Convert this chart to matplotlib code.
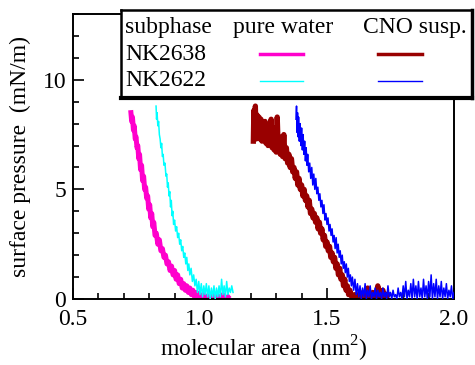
import matplotlib
matplotlib.use("Agg")
import matplotlib.pyplot as plt
from matplotlib.ticker import MultipleLocator

plt.rcParams['font.family'] = ['Liberation Serif', 'DejaVu Serif']
plt.rcParams['mathtext.fontset'] = 'custom'
plt.rcParams['mathtext.rm'] = 'Liberation Serif'

# NK2638 on pure water (magenta)
area_2638_water = [0.728, 0.731, 0.734, 0.738, 0.741, 0.745, 0.748, 0.752, 0.755, 0.759,
                   0.762, 0.766, 0.770, 0.774, 0.778, 0.782, 0.786, 0.790, 0.794, 0.798,
                   0.802, 0.806, 0.810, 0.814, 0.818, 0.823, 0.828, 0.834, 0.840, 0.846,
                   0.852, 0.858, 0.864, 0.870, 0.876, 0.882, 0.888, 0.894, 0.900, 0.906,
                   0.912, 0.918, 0.924, 0.930, 0.936, 0.942, 0.948, 0.954, 0.960, 0.966,
                   0.972, 0.978, 0.984, 0.990, 0.996, 1.004, 1.012, 1.020, 1.030, 1.040,
                   1.050, 1.060, 1.070, 1.080, 1.090, 1.100, 1.110]
pres_2638_water = [8.5, 8.1, 8.3, 7.7, 7.9, 7.3, 7.4, 6.9, 7.0, 6.4,
                   6.6, 5.9, 6.1, 5.4, 5.6, 5.0, 5.1, 4.6, 4.7, 4.1,
                   4.3, 3.7, 3.9, 3.3, 3.5, 2.9, 3.0, 2.5, 2.7, 2.2,
                   2.3, 1.9, 2.0, 1.6, 1.7, 1.3, 1.5, 1.1, 1.3, 0.9,
                   1.1, 0.7, 0.9, 0.5, 0.7, 0.4, 0.6, 0.3, 0.5, 0.2,
                   0.4, 0.1, 0.3, 0.05, 0.25, 0.0, 0.2, 0.0, 0.15, 0.0,
                   0.2, 0.0, 0.15, 0.0, 0.2, 0.0, 0.1]

# NK2622 on pure water (cyan)
area_2622_water = [0.827, 0.829, 0.831, 0.834, 0.837, 0.840, 0.843, 0.846, 0.849, 0.852,
                   0.855, 0.858, 0.862, 0.866, 0.869, 0.872, 0.875, 0.878, 0.881, 0.884,
                   0.887, 0.890, 0.893, 0.896, 0.900, 0.904, 0.908, 0.912, 0.916, 0.920,
                   0.924, 0.928, 0.932, 0.936, 0.940, 0.944, 0.948, 0.952, 0.956, 0.960,
                   0.965, 0.970, 0.975, 0.980, 0.985, 0.990, 0.995, 1.000, 1.005, 1.010,
                   1.015, 1.020, 1.025, 1.030, 1.035, 1.040, 1.045, 1.050, 1.055, 1.060,
                   1.065, 1.070, 1.075, 1.080, 1.085, 1.090, 1.095, 1.100, 1.105, 1.110,
                   1.115, 1.120, 1.125, 1.130]
pres_2622_water = [8.8, 8.2, 8.5, 7.9, 8.1, 7.5, 7.3, 6.9, 7.1, 6.5,
                   6.6, 6.1, 6.2, 5.6, 5.7, 5.1, 5.3, 4.7, 4.9, 4.2,
                   4.5, 3.8, 4.0, 3.4, 3.6, 3.1, 3.3, 2.8, 3.0, 2.5,
                   2.7, 2.2, 2.4, 1.9, 2.1, 1.6, 1.9, 1.3, 1.6, 1.1,
                   1.4, 0.8, 1.1, 0.6, 0.9, 0.3, 0.8, 0.2, 0.7, 0.1,
                   0.6, 0.2, 0.7, 0.1, 0.6, 0.0, 0.5, 0.1, 0.6, 0.0,
                   0.5, 0.1, 0.6, 0.1, 0.9, 0.2, 0.6, 0.1, 0.8, 0.2,
                   0.5, 0.3, 0.6, 0.3]

# NK2638 on CNO suspension (dark red)
area_2638_cno = [1.210, 1.212, 1.215, 1.218, 1.221, 1.224, 1.228, 1.232, 1.236, 1.240,
                 1.244, 1.248, 1.252, 1.256, 1.260, 1.264, 1.268, 1.272, 1.276, 1.280,
                 1.284, 1.288, 1.292, 1.296, 1.300, 1.304, 1.308, 1.312, 1.316, 1.320,
                 1.325, 1.330, 1.335, 1.340, 1.345, 1.350, 1.355, 1.360, 1.365, 1.370,
                 1.375, 1.380, 1.385, 1.390, 1.395, 1.400, 1.405, 1.410, 1.415, 1.420,
                 1.425, 1.430, 1.435, 1.440, 1.445, 1.450, 1.455, 1.460, 1.465, 1.470,
                 1.475, 1.480, 1.485, 1.490, 1.495, 1.500, 1.505, 1.510, 1.515, 1.520,
                 1.525, 1.530, 1.535, 1.540, 1.545, 1.550, 1.555, 1.560, 1.565, 1.570,
                 1.575, 1.580, 1.585, 1.590, 1.600, 1.610, 1.620, 1.630, 1.640, 1.650,
                 1.660, 1.670, 1.680, 1.690, 1.700, 1.710, 1.720, 1.730, 1.740]
pres_2638_cno = [7.2, 8.6, 7.4, 8.8, 7.3, 8.4, 7.5, 8.3, 7.3, 8.2,
                 7.2, 8.0, 7.4, 8.1, 7.1, 7.9, 7.0, 7.8, 7.2, 8.2,
                 6.9, 7.6, 6.8, 7.8, 6.7, 8.3, 6.9, 7.4, 6.6, 7.2,
                 6.5, 7.5, 6.4, 6.9, 6.2, 6.6, 6.0, 6.4, 5.8, 6.0,
                 5.5, 5.8, 5.2, 5.5, 5.0, 5.2, 4.7, 5.0, 4.5, 4.7,
                 4.2, 4.5, 3.9, 4.1, 3.7, 3.9, 3.5, 3.7, 3.2, 3.5,
                 3.0, 3.2, 2.7, 2.9, 2.4, 2.6, 2.2, 2.4, 1.9, 2.1,
                 1.7, 1.9, 1.4, 1.6, 1.1, 1.4, 0.9, 1.1, 0.6, 0.9,
                 0.4, 0.6, 0.2, 0.4, 0.0, 0.2, 0.0, 0.3, 0.0, 0.2,
                 0.5, 0.0, 0.3, 0.0, 0.6, 0.1, 0.4, 0.0, 0.2]

# NK2622 on CNO suspension (blue)
area_2622_cno = [1.378, 1.380, 1.382, 1.384, 1.386, 1.388, 1.391, 1.394, 1.397, 1.400,
                 1.403, 1.406, 1.409, 1.412, 1.415, 1.418, 1.421, 1.424, 1.428, 1.432,
                 1.436, 1.440, 1.444, 1.448, 1.452, 1.456, 1.460, 1.464, 1.468, 1.472,
                 1.476, 1.480, 1.484, 1.488, 1.492, 1.496, 1.500, 1.504, 1.508, 1.512,
                 1.516, 1.520, 1.524, 1.528, 1.532, 1.536, 1.540, 1.544, 1.548, 1.552,
                 1.556, 1.560, 1.564, 1.568, 1.572, 1.576, 1.580, 1.584, 1.588, 1.592,
                 1.596, 1.600, 1.605, 1.610, 1.615, 1.620, 1.625, 1.630, 1.635, 1.640,
                 1.645, 1.650, 1.655, 1.660, 1.665, 1.670, 1.675, 1.680, 1.685, 1.690,
                 1.695, 1.700, 1.705, 1.710, 1.715, 1.720, 1.725, 1.730, 1.735, 1.740,
                 1.745, 1.750, 1.755, 1.760, 1.765, 1.770, 1.775, 1.780, 1.785, 1.790,
                 1.795, 1.800, 1.805, 1.810, 1.815, 1.820, 1.825, 1.830, 1.835, 1.840,
                 1.845, 1.850, 1.855, 1.860, 1.865, 1.870, 1.875, 1.880, 1.885, 1.890,
                 1.895, 1.900, 1.905, 1.910, 1.915, 1.920, 1.925, 1.930, 1.935, 1.940,
                 1.945, 1.950, 1.955, 1.960, 1.965, 1.970, 1.975, 1.980, 1.985, 1.990,
                 1.995, 2.000]
pres_2622_cno = [8.2, 8.8, 7.6, 8.5, 7.4, 8.3, 7.2, 8.0, 7.0, 7.8,
                 6.8, 7.5, 6.6, 7.2, 6.3, 6.9, 6.1, 6.6, 5.8, 6.2,
                 5.5, 6.0, 5.2, 5.7, 5.0, 5.5, 4.8, 5.1, 4.5, 4.8,
                 4.2, 4.5, 3.9, 4.3, 3.6, 3.9, 3.4, 3.7, 3.1, 3.4,
                 2.9, 3.2, 2.6, 2.9, 2.3, 2.8, 2.1, 2.5, 1.9, 2.2,
                 1.6, 2.0, 1.4, 1.7, 1.2, 1.6, 1.0, 1.4, 0.8, 1.1,
                 0.6, 1.0, 0.4, 0.9, 0.2, 0.7, 0.1, 0.6, 0.0, 0.5,
                 0.1, 0.7, 0.0, 0.4, 0.1, 0.6, 0.0, 0.3, 0.1, 0.5,
                 0.0, 0.4, 0.1, 0.3, 0.0, 0.5, 0.1, 0.3, 0.0, 0.6,
                 0.1, 0.3, 0.0, 0.4, 0.1, 0.2, 0.0, 0.5, 0.1, 0.3,
                 0.0, 0.6, 0.1, 0.8, 0.0, 0.4, 0.1, 0.7, 0.0, 0.9,
                 0.1, 0.6, 0.0, 0.8, 0.1, 0.5, 0.0, 0.9, 0.1, 0.6,
                 0.0, 0.8, 0.1, 1.1, 0.0, 0.7, 0.1, 0.9, 0.0, 0.6,
                 0.1, 0.8, 0.0, 0.5, 0.1, 0.7, 0.0, 0.4, 0.1, 0.6,
                 0.0, 0.3]

row_labels = ["NK2638", "NK2622"]
col_labels = ["subphase", "pure water", "CNO susp."]

W, H = 475, 365
fig = plt.figure(figsize=(W / 100, H / 100), dpi=100)
ax = fig.add_axes([73 / W, 1 - 299 / H, 381 / W, 285 / H])

ax.plot(area_2638_water, pres_2638_water, color="#ff00cc", lw=3.6, zorder=2)
ax.plot(area_2638_cno, pres_2638_cno, color="#990000", lw=3.8, zorder=2)
ax.plot(area_2622_water, pres_2622_water, color="#00ffff", lw=1.1, zorder=3)
ax.plot(area_2622_cno, pres_2622_cno, color="#0000ff", lw=1.1, zorder=3)

ax.set_xlim(0.5, 2.0)
ax.set_ylim(0, 13)
ax.xaxis.set_major_locator(MultipleLocator(0.5))
ax.xaxis.set_minor_locator(MultipleLocator(0.1))
ax.yaxis.set_major_locator(MultipleLocator(5))
ax.yaxis.set_minor_locator(MultipleLocator(1))
ax.xaxis.set_major_formatter(plt.FormatStrFormatter("%.1f"))
ax.tick_params(which="both", direction="in", labelsize=17, width=1.2)
ax.tick_params(which="major", length=8)
ax.tick_params(axis="x", which="major", pad=7)
ax.tick_params(axis="y", which="major", pad=5)
ax.tick_params(which="minor", length=4)
for sp in ax.spines.values():
    sp.set_linewidth(1.4)

ax.set_xlabel("molecular area  (nm$^2$)", fontsize=17, labelpad=3)
ax.set_ylabel("surface pressure  (mN/m)", fontsize=17, labelpad=8)

# table-like legend box, drawn in pixel units
lg = fig.add_axes([121 / W, 1 - 98 / H, 351 / W, 88 / H])
lg.set_xlim(121, 472)
lg.set_ylim(98, 10)
lg.set_xticks([])
lg.set_yticks([])
lg.set_facecolor("white")
for sp in lg.spines.values():
    sp.set_linewidth(1.8)
lg.spines["bottom"].set_linewidth(3)
lg.spines["right"].set_linewidth(2.5)

lg.text(125, 28, col_labels[0], fontsize=17, va="center", ha="left")
lg.text(283, 28, col_labels[1], fontsize=17, va="center", ha="center")
lg.text(415, 28, col_labels[2], fontsize=17, va="center", ha="center")
lg.text(125, 55, row_labels[0], fontsize=17, va="center", ha="left")
lg.text(125, 81, row_labels[1], fontsize=17, va="center", ha="left")
lg.plot([260, 303], [54, 54], color="#ff00cc", lw=2.5)
lg.plot([378, 422], [54, 54], color="#990000", lw=2.5)
lg.plot([260, 303], [81, 81], color="#00ffff", lw=1.0)
lg.plot([378, 422], [81, 81], color="#0000ff", lw=1.0)

fig.savefig("out.png", dpi=100)
